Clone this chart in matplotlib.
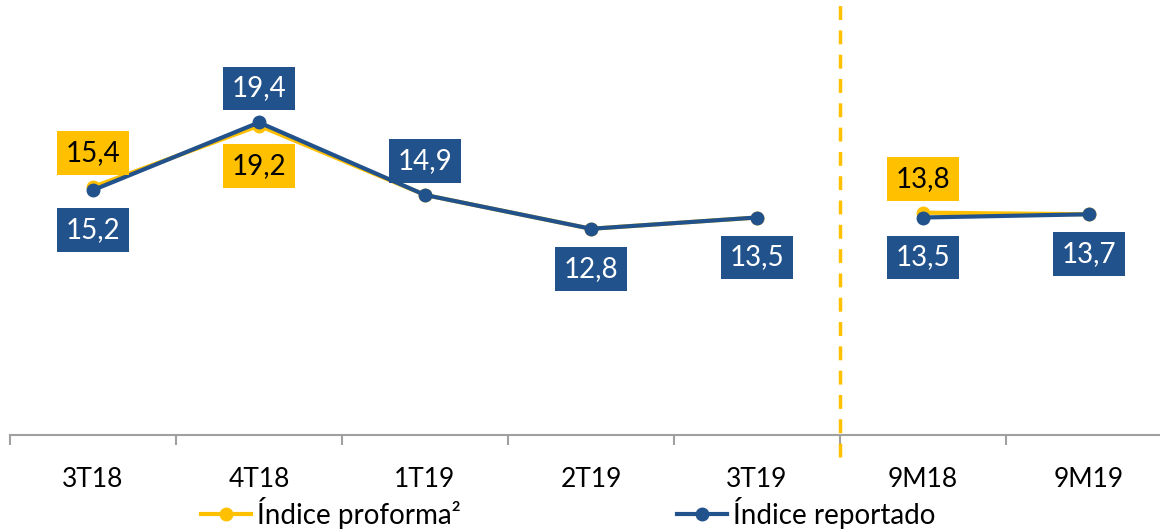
import numpy as np
import matplotlib.pyplot as plt

categorias = ['3T18', '4T18', '1T19', '2T19', '3T19', '9M18', '9M19']
proforma = [15.4, 19.2, 14.9, 12.8, 13.5, 13.8, 13.7]
reportado = [15.2, 19.4, 14.9, 12.8, 13.5, 13.5, 13.7]
# qué etiquetas se muestran y dónde (arriba/abajo)
etiq_proforma = {0: 'up', 1: 'down', 5: 'up'}
etiq_reportado = {0: 'down', 1: 'up', 2: 'up', 3: 'down', 4: 'down', 5: 'down', 6: 'down'}

amarillo = '#FFC000'
azul = '#22528B'

plt.rcParams['font.family'] = ['Lato', 'DejaVu Sans']

fig = plt.figure(figsize=(11.6, 5.3), dpi=100)
ax = fig.add_axes([10 / 1160, 1 - 435 / 530, 1162 / 1160, 435 / 530])

x = np.arange(len(categorias))
tramos = [slice(0, 5), slice(5, 7)]
for i, s in enumerate(tramos):
    ax.plot(x[s], proforma[s], color=amarillo, lw=3, marker='o', ms=9,
            label='Índice proforma²' if i == 0 else None, zorder=3)
for i, s in enumerate(tramos):
    ax.plot(x[s], reportado[s], color=azul, lw=3, marker='o', ms=9,
            label='Índice reportado' if i == 0 else None, zorder=4)


def etiqueta(xi, v, pos, fondo, color_txt):
    dy = 34 if pos == 'up' else -40
    ax.annotate(f'{v:.1f}'.replace('.', ','), (xi, v), xytext=(0, dy),
                textcoords='offset pixels', ha='center', va='center',
                fontsize=20, color=color_txt, zorder=6,
                bbox=dict(boxstyle='square,pad=0.32', fc=fondo, ec='none'))


for i, pos in etiq_proforma.items():
    etiqueta(x[i], proforma[i], pos, amarillo, 'black')
for i, pos in etiq_reportado.items():
    etiqueta(x[i], reportado[i], pos, azul, 'white')

# línea divisoria entre trimestres y acumulados
ax.plot([4.5, 4.5], [-0.05, 1], transform=ax.get_xaxis_transform(),
        color=amarillo, lw=2.5, ls=(0, (4, 3)), clip_on=False, zorder=2)

ax.set_xlim(-0.5, 6.5)
ax.set_ylim(0, 27)
ax.set_yticks([])
for s in ['top', 'right', 'left']:
    ax.spines[s].set_visible(False)
ax.spines['bottom'].set_color('#A0A0A0')
ax.spines['bottom'].set_linewidth(1.5)

ax.set_xticks(x)
ax.set_xticklabels(categorias, fontsize=19)
ax.tick_params(axis='x', which='major', length=0, pad=23)
ax.set_xticks(np.arange(-0.5, 7, 1), minor=True)
ax.tick_params(axis='x', which='minor', length=7, width=1.5, color='#A0A0A0')

fig.legend(loc='center', bbox_to_anchor=(0.49, 0.032), ncol=2, frameon=False,
           fontsize=20, handlelength=1.8, handletextpad=0.2, columnspacing=7.8,
           borderpad=0)

fig.savefig('out.png', dpi=100)
